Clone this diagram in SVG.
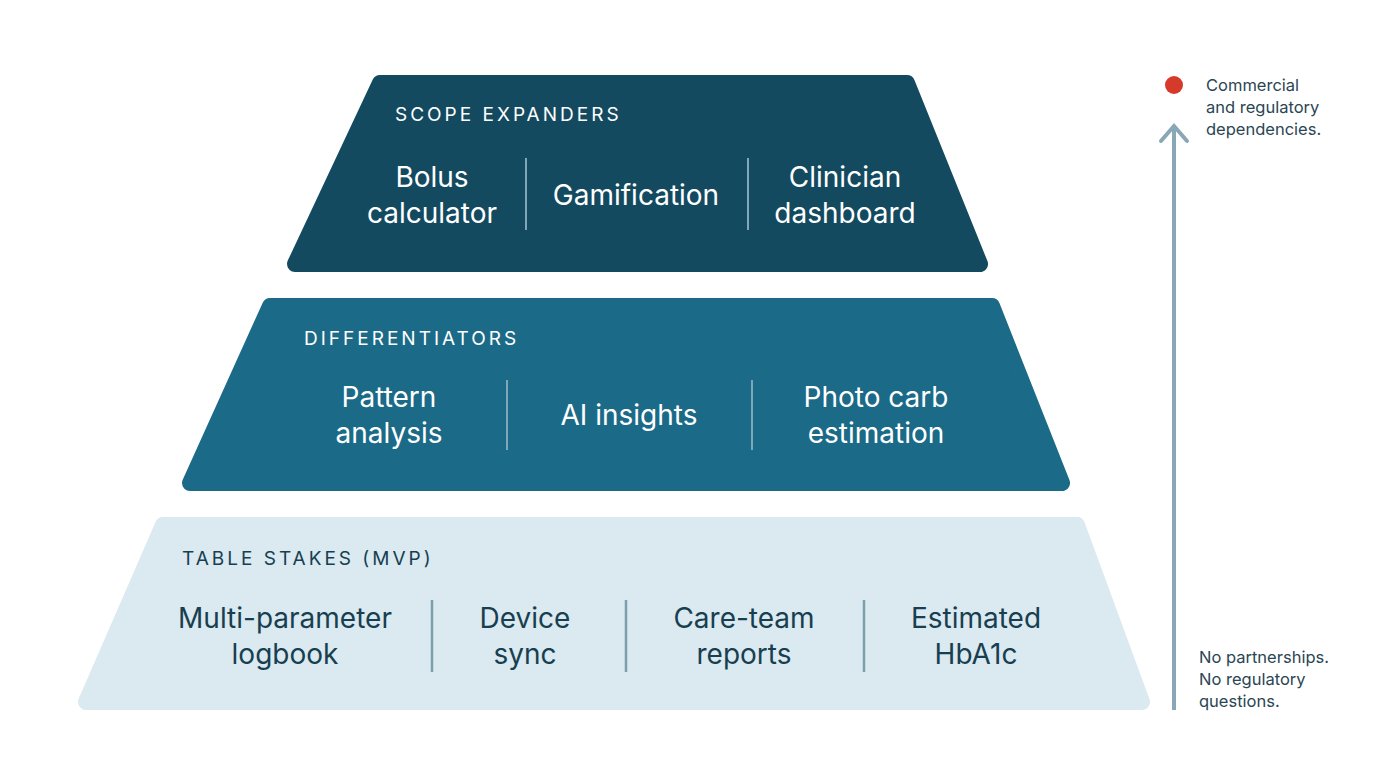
<svg xmlns="http://www.w3.org/2000/svg" width="1376" height="768" viewBox="0 0 1376 768">
<style>
.t{font-family:Inter,"Liberation Sans",sans-serif;text-anchor:middle}
.big{font-size:28px}
.cap{font-size:19px;letter-spacing:3px;text-anchor:start}
.side{font-family:Inter,"Liberation Sans",sans-serif;font-size:16.5px;fill:#2a4654}
.w{fill:#ffffff}
.d{fill:#173f50}
.sepw{stroke:#7fa7b8;stroke-width:2}
.sepd{stroke:#7d9eac;stroke-width:2.5}
</style>
<rect width="1376" height="768" fill="#ffffff"/>
<g id="tier-top">
<polygon points="380,83 907,83 980,264 295,264" fill="#134a60" stroke="#134a60" stroke-width="16" stroke-linejoin="round"/>
<text class="t cap w" x="395" y="121">SCOPE EXPANDERS</text>
<text class="t big w" x="432" y="187">Bolus</text>
<text class="t big w" x="432" y="223">calculator</text>
<line class="sepw" x1="526" y1="158" x2="526" y2="230"/>
<text class="t big w" x="636" y="205">Gamification</text>
<line class="sepw" x1="748" y1="158" x2="748" y2="230"/>
<text class="t big w" x="845" y="187">Clinician</text>
<text class="t big w" x="845" y="223">dashboard</text>
</g>
<g id="tier-middle">
<polygon points="270,306 992,306 1062,483 190,483" fill="#1b6a87" stroke="#1b6a87" stroke-width="16" stroke-linejoin="round"/>
<text class="t cap w" x="304" y="345">DIFFERENTIATORS</text>
<text class="t big w" x="389" y="407">Pattern</text>
<text class="t big w" x="389" y="443">analysis</text>
<line class="sepw" x1="507" y1="380" x2="507" y2="450"/>
<text class="t big w" x="629" y="425">AI insights</text>
<line class="sepw" x1="752" y1="380" x2="752" y2="450"/>
<text class="t big w" x="876" y="407">Photo carb</text>
<text class="t big w" x="876" y="443">estimation</text>
</g>
<g id="tier-bottom">
<polygon points="163,525 1077,525 1142,702 86,702" fill="#dbe9f0" stroke="#dbe9f0" stroke-width="16" stroke-linejoin="round"/>
<text class="t cap d" x="182" y="565">TABLE STAKES (MVP)</text>
<text class="t big d" x="285" y="628">Multi-parameter</text>
<text class="t big d" x="285" y="664">logbook</text>
<line class="sepd" x1="432" y1="600" x2="432" y2="672"/>
<text class="t big d" x="525" y="628">Device</text>
<text class="t big d" x="525" y="664">sync</text>
<line class="sepd" x1="626" y1="600" x2="626" y2="672"/>
<text class="t big d" x="744" y="628">Care-team</text>
<text class="t big d" x="744" y="664">reports</text>
<line class="sepd" x1="864" y1="600" x2="864" y2="672"/>
<text class="t big d" x="976" y="628">Estimated</text>
<text class="t big d" x="976" y="664">HbA1c</text>
</g>
<g id="connectors">
<line x1="1174" y1="710" x2="1174" y2="126" stroke="#8aa7b5" stroke-width="4"/>
<polyline points="1161,141 1174,126 1187,141" fill="none" stroke="#8aa7b5" stroke-width="4" stroke-linecap="round"/>
</g>
<g id="legend">
<circle cx="1174" cy="85" r="9" fill="#d63a2a"/>
<text class="side" x="1206" y="91">Commercial</text>
<text class="side" x="1206" y="113">and regulatory</text>
<text class="side" x="1206" y="135">dependencies.</text>
<text class="side" x="1199" y="663">No partnerships.</text>
<text class="side" x="1199" y="685">No regulatory</text>
<text class="side" x="1199" y="707">questions.</text>
</g>
</svg>
